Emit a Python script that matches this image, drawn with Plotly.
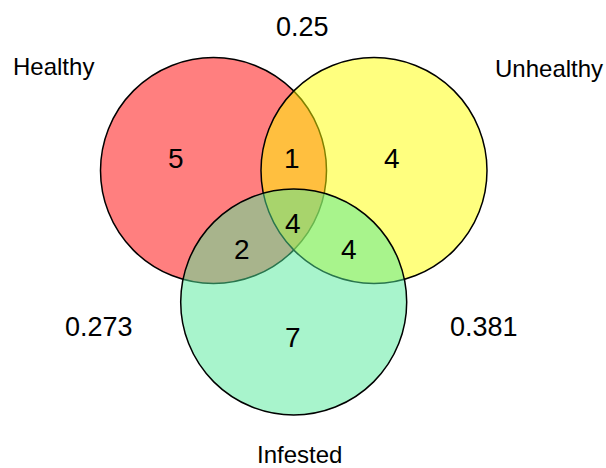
import plotly.graph_objects as go

# ---- data ----
set_names = ["Healthy", "Unhealthy", "Infested"]
region_labels = ["Healthy only", "Healthy&Unhealthy", "Unhealthy only",
                 "All three", "Healthy&Infested", "Unhealthy&Infested", "Infested only"]
region_counts = [5, 1, 4, 4, 2, 4, 7]
pair_names = ["Healthy-Unhealthy", "Healthy-Infested", "Unhealthy-Infested"]
pair_values = [0.25, 0.273, 0.381]

# ---- layout geometry (pixels) ----
W, H = 606, 468
circle_centers = [(213.5, 170.5), (374.0, 170.5), (293.7, 302.0)]
circle_radius = 113.0
circle_fills = ["rgba(255,0,0,0.5)", "rgba(255,255,0,0.5)", "rgba(81,233,153,0.5)"]
set_label_pos = [(53, 66), (549, 68), (299, 454)]
region_pos = [(176, 158), (292, 158), (392, 158), (293, 223), (242, 249), (349, 249), (293, 337)]
pair_pos = [(302, 27), (99, 327), (484, 327)]

fig = go.Figure()
fig.add_trace(go.Scatter(x=[0, W], y=[0, H], mode="markers",
                         marker=dict(opacity=0), hoverinfo="skip", showlegend=False))

for (cx, cy), fc in zip(circle_centers, circle_fills):
    fig.add_shape(type="circle", xref="x", yref="y",
                  x0=cx - circle_radius, x1=cx + circle_radius,
                  y0=cy - circle_radius, y1=cy + circle_radius,
                  fillcolor=fc, line=dict(color="black", width=1.5), layer="above")

font_family = "Liberation Sans, Arial, sans-serif"
for name, (x, y) in zip(set_names, set_label_pos):
    fig.add_annotation(x=x, y=y, text=name, showarrow=False,
                       font=dict(family=font_family, size=24, color="black"))
for cnt, (x, y) in zip(region_counts, region_pos):
    fig.add_annotation(x=x, y=y, text=str(cnt), showarrow=False,
                       font=dict(family=font_family, size=28, color="black"))
for val, (x, y) in zip(pair_values, pair_pos):
    fig.add_annotation(x=x, y=y, text=f"{val:g}", showarrow=False,
                       font=dict(family=font_family, size=27, color="black"))

fig.update_layout(
    width=W, height=H, margin=dict(l=0, r=0, t=0, b=0),
    paper_bgcolor="white", plot_bgcolor="white", showlegend=False,
    xaxis=dict(range=[0, W], visible=False, fixedrange=True),
    yaxis=dict(range=[H, 0], visible=False, fixedrange=True),
)
fig.write_html("out.html", config={"displayModeBar": False},
               post_script="document.body.style.margin='0';document.body.style.overflow='hidden';")
